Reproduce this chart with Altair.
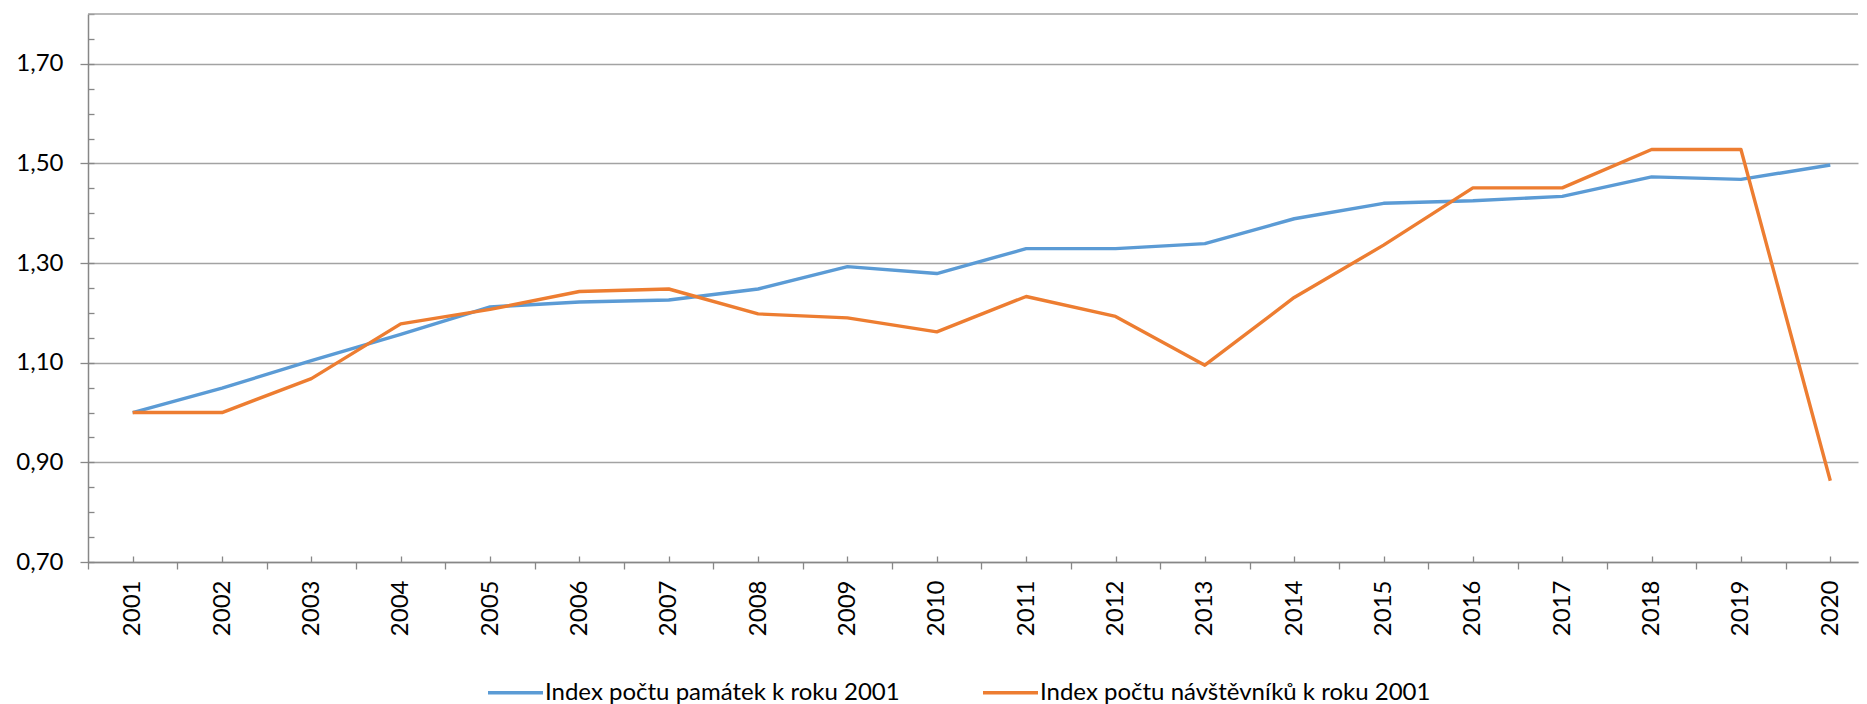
import altair as alt
import pandas as pd

years = [2001, 2002, 2003, 2004, 2005, 2006, 2007, 2008, 2009, 2010,
         2011, 2012, 2013, 2014, 2015, 2016, 2017, 2018, 2019, 2020]
pamatky = [1.000, 1.049, 1.104, 1.157, 1.212, 1.222, 1.226, 1.248, 1.293, 1.279,
           1.329, 1.329, 1.339, 1.389, 1.420, 1.425, 1.434, 1.473, 1.468, 1.497]
navstevnici = [1.000, 1.000, 1.068, 1.178, 1.207, 1.243, 1.248, 1.198, 1.190, 1.162,
               1.233, 1.193, 1.095, 1.231, 1.336, 1.451, 1.451, 1.528, 1.528, 0.863]
series_names = ["Index počtu památek k roku 2001", "Index počtu návštěvníků k roku 2001"]
colors = ["#5B9BD5", "#ED7D31"]
y_major = [0.70, 0.90, 1.10, 1.30, 1.50, 1.70]
y_minor = [0.70, 0.75, 0.80, 0.85, 0.90, 0.95, 1.00, 1.05, 1.10, 1.15, 1.20, 1.25,
           1.30, 1.35, 1.40, 1.45, 1.50, 1.55, 1.60, 1.65, 1.70, 1.75, 1.80]
x_bounds = [2000.5, 2001.5, 2002.5, 2003.5, 2004.5, 2005.5, 2006.5, 2007.5, 2008.5, 2009.5,
            2010.5, 2011.5, 2012.5, 2013.5, 2014.5, 2015.5, 2016.5, 2017.5, 2018.5, 2019.5]
y_top = 1.80

rows = []
for name, vals in zip(series_names, [pamatky, navstevnici]):
    for yr, v in zip(years, vals):
        rows.append({"rok": yr, "hodnota": v, "serie": name})
df = pd.DataFrame(rows)

W, H = 1770, 548
FONT = "Lato"
AXIS_GREY = "#878787"
GRID_GREY = "#a3a3a3"

xscale = alt.Scale(domain=[2000.5, 2020.31], nice=False, zero=False)
yscale = alt.Scale(domain=[0.70, 1.80], nice=False, zero=False)

lines = alt.Chart(df).mark_line(strokeWidth=3.4, strokeJoin="round").encode(
    x=alt.X("rok:Q", scale=xscale, axis=alt.Axis(
        values=years, format="d", labelAngle=270, labelAlign="right", labelBaseline="middle",
        ticks=False, tickSize=0, labelPadding=18, domain=True, domainColor=AXIS_GREY,
        domainWidth=1.5, grid=False, title=None, labelFont=FONT, labelFontSize=24,
        labelColor="#000000", labelOverlap=False)),
    y=alt.Y("hodnota:Q", scale=yscale, axis=alt.Axis(
        values=y_major, labelExpr="replace(format(datum.value, '.2f'), '.', ',')",
        grid=True, gridColor=GRID_GREY, gridWidth=1.3, tickSize=8, tickColor=AXIS_GREY,
        tickWidth=1.3, domainColor=AXIS_GREY, domainWidth=1.5, labelPadding=17, title=None,
        labelFont=FONT, labelFontSize=24, labelColor="#000000")),
    color=alt.Color("serie:N", sort=series_names,
                    scale=alt.Scale(domain=series_names, range=colors),
                    legend=alt.Legend(orient="none", legendX=398, legendY=649,
                                      direction="horizontal", title=None,
                                      symbolType="stroke", symbolSize=3025,
                                      symbolStrokeWidth=3.5, labelFont=FONT,
                                      labelFontSize=24, labelColor="#000000",
                                      labelLimit=700, columnPadding=76, padding=0,
                                      labelOffset=0)),
)

minor = alt.Chart(df).mark_point(opacity=0).encode(
    x=alt.X("rok:Q", scale=xscale, axis=alt.Axis(
        values=x_bounds, labels=False, tickSize=7, tickColor=AXIS_GREY, tickWidth=1.3,
        domain=False, grid=False, title=None, orient="bottom")),
    y=alt.Y("hodnota:Q", scale=yscale, axis=alt.Axis(
        values=y_minor, labels=False, tickSize=6, tickColor=AXIS_GREY, tickWidth=1.3,
        domain=False, grid=False, title=None, orient="right", offset=-W)),
)

inner_x = alt.Chart(df).mark_point(opacity=0).encode(
    x=alt.X("rok:Q", scale=xscale, axis=alt.Axis(
        values=years, labels=False, tickSize=6, tickColor=AXIS_GREY, tickWidth=1.3,
        domain=False, grid=False, title=None, orient="top", offset=-H)),
    y=alt.Y("hodnota:Q", scale=yscale, axis=None),
)

top_df = pd.DataFrame({"hodnota": [y_top]})
top_line = alt.Chart(top_df).mark_rule(color=GRID_GREY, strokeWidth=1.3).encode(
    y=alt.Y("hodnota:Q", scale=yscale, axis=None),
)

chart = alt.layer(top_line, lines, minor, inner_x).resolve_axis(
    x="independent", y="independent"
).properties(
    width=W, height=H, autosize="none",
    padding={"left": 80, "top": 6, "right": 1, "bottom": 146},
).configure_view(stroke=None)

chart.save("out.html", embed_options={"renderer": "svg", "actions": False})
